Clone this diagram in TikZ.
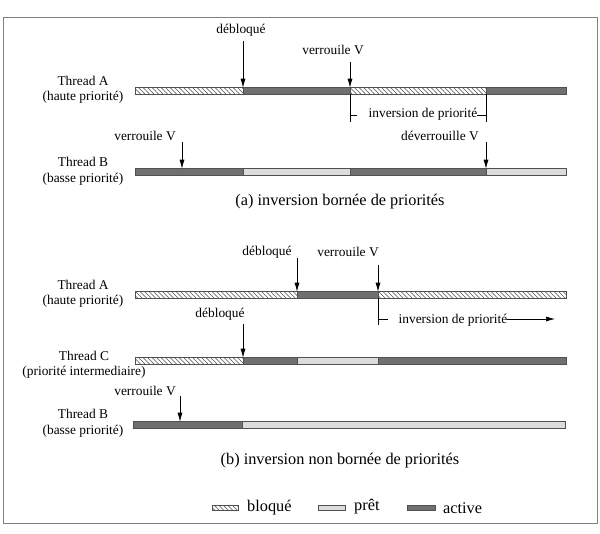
\documentclass[tikz,border=0pt]{standalone}
\usepackage{fontspec}
\setmainfont{Liberation Serif}
\usetikzlibrary{arrows.meta,patterns}
\definecolor{actc}{HTML}{707070}
\definecolor{prc}{HTML}{DCDCDC}
\definecolor{edgec}{HTML}{505050}
\definecolor{framec}{HTML}{808080}
\pgfdeclarepatternformonly[\hatchcol]{widehatch}{\pgfqpoint{-1pt}{-1pt}}{\pgfqpoint{5.5pt}{5.5pt}}{\pgfqpoint{4.5pt}{4.5pt}}{%
  \pgfsetcolor{\hatchcol}%
  \pgfsetlinewidth{0.6pt}%
  \pgfpathmoveto{\pgfqpoint{-0.1pt}{4.6pt}}%
  \pgfpathlineto{\pgfqpoint{4.6pt}{-0.1pt}}%
  \pgfusepath{stroke}}
\def\hatchcol{edgec}
\tikzset{
  seg/.style={draw=edgec, line width=0.8pt},
  blq/.style={seg, pattern=widehatch},
  act/.style={seg, fill=actc},
  rdy/.style={seg, fill=prc},
  lbl/.style={font=\fontsize{13.4}{15.5}\selectfont, inner sep=0pt, align=center},
  captext/.style={font=\fontsize{16.3}{18}\selectfont, inner sep=0pt},
  evt/.style={-{Latex[length=9pt,width=5pt]}, line width=0.7pt},
  brk/.style={line width=0.6pt},
  framebox/.style={draw=framec, line width=1pt},
}
\newcommand\segbar[4]{\draw[#1] (#2,{#4-3.3}) rectangle (#3,{#4+3.3});}
\begin{document}
\begin{tikzpicture}[x=1pt,y=-1pt]
\useasboundingbox (0,0) rectangle (600,534);
\draw[framebox] (3,18) rectangle (597,523);

% ---------- (a) ----------
\node[lbl] (aAl) at (83,90) {Thread A\\(haute priorité)};
\node[lbl] (aBl) at (83,171.5) {Thread B\\(basse priorité)};
\segbar{blq}{135}{243}{91}
\segbar{act}{243}{350}{91}
\segbar{blq}{350}{486}{91}
\segbar{act}{486}{566}{91}
\segbar{act}{135}{243}{172}
\segbar{rdy}{243}{350}{172}
\segbar{act}{350}{486}{172}
\segbar{rdy}{486}{566}{172}

\node[lbl] (aDeb) at (241,30) {débloqué};
\coordinate (aDebT) at (243,41); \coordinate (aDebB) at (243,87.7);
\draw[evt] (aDebT) -- (aDebB);
\node[lbl] (aVer) at (333,50) {verrouile V};
\coordinate (aVerT) at (350,62); \coordinate (aVerB) at (350,87.7);
\draw[evt] (aVerT) -- (aVerB);

\coordinate (aI1t) at (350,94.3); \coordinate (aI1b) at (350,122);
\coordinate (aI2t) at (486,94.3); \coordinate (aI2b) at (486,122);
\draw[brk] (aI1t) -- (aI1b);
\draw[brk] (aI2t) -- (aI2b);
\node[lbl] (aInv) at (423,114) {inversion de priorité};
\coordinate (aIt1) at (357,115); \coordinate (aIt0) at (350,115);
\coordinate (aIt2) at (477,115); \coordinate (aIt3) at (486,115);
\draw[brk] (aIt0) -- (aIt1);
\draw[brk] (aIt2) -- (aIt3);

\node[lbl] (aBVer) at (145,136) {verrouile V};
\coordinate (aBVerT) at (182,142); \coordinate (aBVerB) at (182,168.7);
\draw[evt] (aBVerT) -- (aBVerB);
\node[lbl] (aBDev) at (440,136) {déverrouille V};
\coordinate (aBDevT) at (486,142); \coordinate (aBDevB) at (486,168.7);
\draw[evt] (aBDevT) -- (aBDevB);

\node[captext] (capA) at (340,202) {(a) inversion bornée de priorités};

% ---------- (b) ----------
\node[lbl] (bAl) at (83,294) {Thread A\\(haute priorité)};
\node[lbl] (bCl) at (84,365) {Thread C\\(priorité intermediaire)};
\node[lbl] (bBl) at (83,423.5) {Thread B\\(basse priorité)};
\segbar{blq}{135}{297}{295}
\segbar{act}{297}{378}{295}
\segbar{blq}{378}{566}{295}
\segbar{blq}{135}{243}{361}
\segbar{act}{243}{297}{361}
\segbar{rdy}{297}{378}{361}
\segbar{act}{378}{566}{361}
\segbar{act}{133}{242}{425}
\segbar{rdy}{242}{565}{425}

\node[lbl] (bDeb) at (267,252) {débloqué};
\coordinate (bDebT) at (297,258); \coordinate (bDebB) at (297,291.7);
\draw[evt] (bDebT) -- (bDebB);
\node[lbl] (bVer) at (348,252) {verrouile V};
\coordinate (bVerT) at (378,265); \coordinate (bVerB) at (378,291.7);
\draw[evt] (bVerT) -- (bVerB);

\coordinate (bI1t) at (378,298.3); \coordinate (bI1b) at (378,325);
\draw[brk] (bI1t) -- (bI1b);
\coordinate (bIt0) at (378,319); \coordinate (bIt1) at (388,319);
\draw[brk] (bIt0) -- (bIt1);
\node[lbl] (bInv) at (453,320) {inversion de priorité};
\coordinate (bArrS) at (507,319); \coordinate (bArrE) at (555,319);
\draw[evt] (bArrS) -- (bArrE);

\node[lbl] (bCDeb) at (220,314) {débloqué};
\coordinate (bCDebT) at (243,324); \coordinate (bCDebB) at (243,357.7);
\draw[evt] (bCDebT) -- (bCDebB);

\node[lbl] (bBVer) at (145,391) {verrouile V};
\coordinate (bBVerT) at (180,396); \coordinate (bBVerB) at (180,421.7);
\draw[evt] (bBVerT) -- (bBVerB);

\node[captext] (capB) at (340,461) {(b) inversion non bornée de priorités};

% ---------- legend ----------
\draw[blq] (212,505) rectangle (238,510.5);
\node[captext, anchor=west] (lgB) at (247,508) {bloqué};
\draw[rdy] (318,505) rectangle (345,510.5);
\node[captext, anchor=west] (lgP) at (354,507) {prêt};
\draw[act] (407,505) rectangle (435,510.5);
\node[captext, anchor=west] (lgA) at (443,508) {active};
\end{tikzpicture}
\end{document}
